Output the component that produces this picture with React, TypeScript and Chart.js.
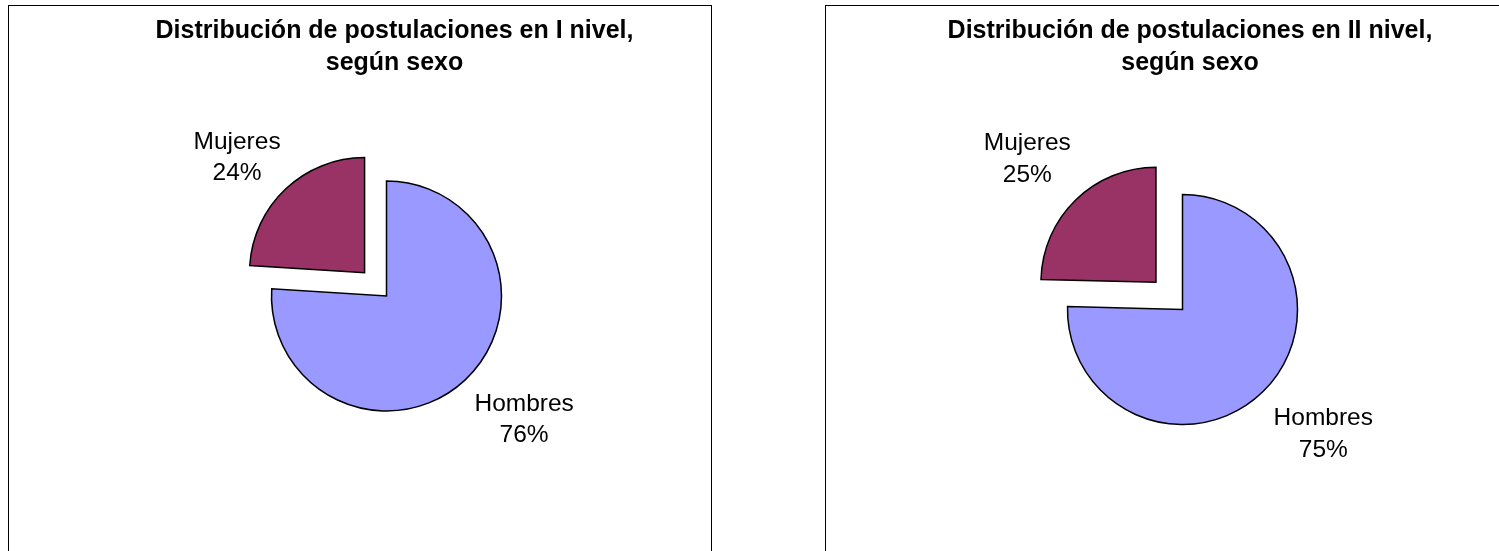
import React, { useEffect, useRef } from "react";
import { Chart, registerables } from "chart.js";

Chart.register(...registerables);

// ---- Data ----
const categories = ["Hombres", "Mujeres"];
const nivelIValues = [76, 24];
const nivelIIValues = [75.4, 24.6];
const nivelITitle = ["Distribución de postulaciones en I nivel,", "según sexo"];
const nivelIITitle = ["Distribución de postulaciones en II nivel,", "según sexo"];
const sliceColors = ["#9999FF", "#993366"];

const FONT = '"Liberation Sans", Arial, Helvetica, sans-serif';

type PanelProps = {
  title: string[];
  values: number[];
  left: number;
  padLeft: number;
  padTop: number;
  titleX: number;
  radius: number;
  explode: number;
  gap: number;
  lineH: number;
  nudge: number[][];
};

const CW = 702;
const CH = 546;

function PiePanel(p: PanelProps) {
  const ref = useRef<HTMLCanvasElement | null>(null);

  useEffect(() => {
    if (!ref.current) return;
    const textPlugin = {
      id: "pieText",
      afterDatasetsDraw(chart: any) {
        const ctx = chart.ctx as CanvasRenderingContext2D;
        ctx.save();
        ctx.fillStyle = "#000";
        ctx.textAlign = "center";
        ctx.textBaseline = "middle";
        ctx.font = `bold 25px ${FONT}`;
        p.title.forEach((t, i) => ctx.fillText(t, p.titleX, 25 + i * 32.5));

        const meta = chart.getDatasetMeta(0);
        const data = chart.data.datasets[0].data as number[];
        const total = data.reduce((a, b) => a + b, 0);
        ctx.font = `24.5px ${FONT}`;
        ctx.textBaseline = "alphabetic";
        meta.data.forEach((el: any, i: number) => {
          const { x, y, startAngle, endAngle, outerRadius } = el.getProps(
            ["x", "y", "startAngle", "endAngle", "outerRadius"],
            true
          );
          const mid = (startAngle + endAngle) / 2;
          const off = (el.options.offset || 0) / 4;
          const d = off + outerRadius + p.gap;
          const px = x + Math.cos(mid) * d + p.nudge[i][0];
          const py = y + Math.sin(mid) * d + p.nudge[i][1];
          const lines = [
            String(chart.data.labels[i]),
            Math.round((data[i] / total) * 100) + "%",
          ];
          const w = Math.max(...lines.map((l) => ctx.measureText(l).width));
          const h = 22 + p.lineH + 3;
          const bx = Math.cos(mid) >= 0 ? px : px - w;
          const by = Math.sin(mid) >= 0 ? py : py - h;
          lines.forEach((l, k) => ctx.fillText(l, bx + w / 2, by + 22 + k * p.lineH));
        });
        ctx.restore();
      },
    };

    const chart = new Chart(ref.current, {
      type: "pie",
      data: {
        labels: categories,
        datasets: [
          {
            data: p.values,
            backgroundColor: sliceColors,
            borderColor: "#000",
            borderWidth: 1.5,
            borderJoinStyle: "miter",
            offset: [0, p.explode * 4],
          } as any,
        ],
      },
      options: {
        animation: false,
        responsive: false,
        radius: p.radius,
        events: [],
        layout: {
          padding: { left: p.padLeft, right: 0, top: p.padTop, bottom: 0 },
        },
        plugins: {
          legend: { display: false },
          title: { display: false },
          tooltip: { enabled: false },
        },
      } as any,
      plugins: [textPlugin],
    });
    return () => chart.destroy();
  }, []);

  return (
    <div
      style={{
        position: "absolute",
        left: p.left,
        top: 5,
        width: 704,
        height: 600,
        border: "1px solid #000",
        boxSizing: "border-box",
        background: "#fff",
      }}
    >
      <canvas
        ref={ref}
        width={CW}
        height={CH}
        style={{ display: "block", width: CW, height: CH }}
      />
    </div>
  );
}

export default function App() {
  return (
    <div
      style={{
        position: "fixed",
        left: 0,
        top: 0,
        width: 1499,
        height: 551,
        overflow: "hidden",
        background: "#fff",
      }}
    >
      <PiePanel
        title={nivelITitle}
        values={nivelIValues}
        left={8}
        padLeft={53}
        padTop={34}
        titleX={385.5}
        radius={115}
        explode={32}
        gap={12}
        lineH={31}
        nudge={[
          [1, 0],
          [3, 3],
        ]}
      />
      <PiePanel
        title={nivelIITitle}
        values={nivelIIValues}
        left={825}
        padLeft={11}
        padTop={61}
        titleX={364}
        radius={115}
        explode={38}
        gap={15.5}
        lineH={32}
        nudge={[
          [0, 0],
          [6, -4],
        ]}
      />
    </div>
  );
}
